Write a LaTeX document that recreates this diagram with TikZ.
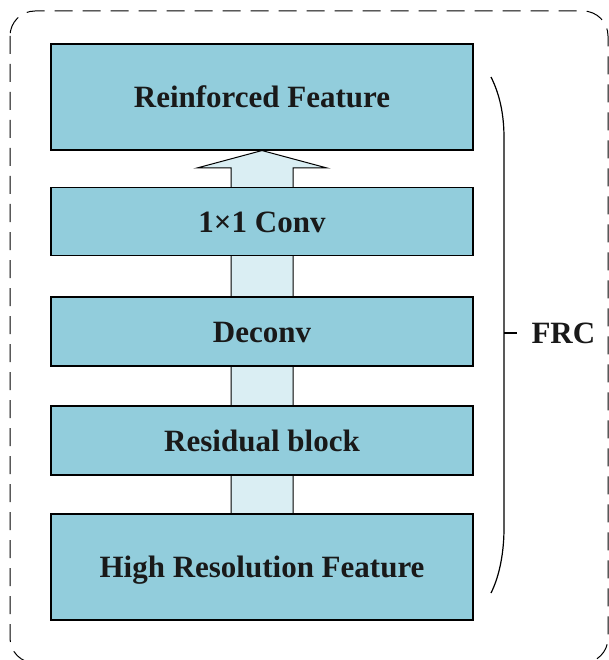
\documentclass[tikz,border=0pt]{standalone}
\usepackage{fontspec}
\setmainfont{Liberation Serif}
\usetikzlibrary{calc,backgrounds}
\definecolor{boxfill}{HTML}{92CDDC}
\definecolor{arrowfill}{HTML}{DAEEF3}
\tikzset{
  layerbox/.style={draw=black, line width=1.1pt, fill=boxfill, minimum width=422pt, inner sep=0pt,
    text height=21pt, text depth=0pt,
    font=\fontsize{31}{36}\selectfont\bfseries, text=black!90},
  bigarrow/.style={draw=black, line width=1pt, fill=arrowfill},
  bracestyle/.style={draw=black, line width=1.2pt},
  frame/.style={draw=black, line width=1pt, dash pattern=on 18pt off 10pt, rounded corners=25pt}
}
\begin{document}
\begin{tikzpicture}[x=1pt,y=-1pt]
\useasboundingbox (0,0) rectangle (609,660);
\node[layerbox, minimum height=106pt] (rf) at (262,97) {Reinforced Feature};
\node[layerbox, minimum height=68pt] (conv) at (262,221.5) {1×1 Conv};
\node[layerbox, minimum height=69pt] (deconv) at (262,331.5) {Deconv};
\node[layerbox, minimum height=69pt] (res) at (262,440.5) {Residual block};
\node[layerbox, minimum height=106pt] (hr) at (262,567) {High Resolution Feature};
\begin{scope}[on background layer]
  \draw[frame] (10,11) rectangle (608,663);
  \coordinate (tailL) at ($(hr.north)+(-31,0)$);
  \coordinate (tailR) at ($(hr.north)+(31,0)$);
  \coordinate (tip) at (rf.south);
  \draw[bigarrow] (tailL) -- (tailL |- 0,168) -- (197,168) -- (tip) -- (327,168) -- (tailR |- 0,168) -- (tailR);
\end{scope}
\coordinate (btop) at (491,77);
\coordinate (bbot) at (491,593);
\coordinate (bmid) at (504,333);
\draw[bracestyle] (btop) .. controls (500,95) and (504,115) .. (504,138) -- (504,528) .. controls (504,551) and (500,575) .. (bbot);
\node[font=\fontsize{31}{36}\selectfont\bfseries, text=black!90, anchor=west] (frc) at (528,333) {FRC};
\draw[bracestyle] (bmid) -- (517,333);
\end{tikzpicture}
\end{document}
